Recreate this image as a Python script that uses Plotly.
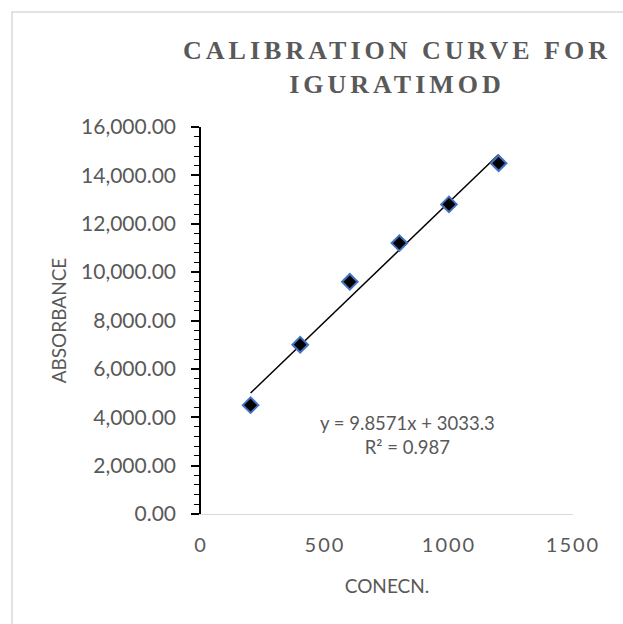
import numpy as np
import plotly.graph_objects as go

# ---- data ----
concentration = [200, 400, 600, 800, 1000, 1200]
absorbance = [4500, 7000, 9600, 11200, 12800, 14500]
x_tick_values = [0, 500, 1000, 1500]
y_tick_values = [0, 2000, 4000, 6000, 8000, 10000, 12000, 14000, 16000]
title_lines = ["CALIBRATION CURVE FOR", "IGURATIMOD"]
x_title = "CONECN."
y_title = "ABSORBANCE"

# ---- linear trendline (least squares) ----
slope, intercept = np.polyfit(concentration, absorbance, 1)
pred = np.polyval([slope, intercept], concentration)
ss_res = float(np.sum((np.array(absorbance) - pred) ** 2))
ss_tot = float(np.sum((np.array(absorbance) - np.mean(absorbance)) ** 2))
r2 = 1 - ss_res / ss_tot
trend_x = [min(concentration), max(concentration)]
trend_y = list(np.polyval([slope, intercept], trend_x))
eq_text = f"y = {slope:.4f}x + {intercept:.1f}<br>R² = {r2:.4g}"

W, H = 623, 624
L, R, T, B = 201, 50, 127, 110
plot_w = W - L - R
plot_h = H - T - B

def px_x(px):
    return (px - L) / plot_w

def px_y(py):
    return (H - B - py) / plot_h

grey = "#595959"
font = "Lato, 'Open Sans', sans-serif"

fig = go.Figure()
fig.add_trace(go.Scatter(
    x=trend_x, y=trend_y, mode="lines",
    line=dict(color="black", width=1.5), hoverinfo="skip", showlegend=False))
fig.add_trace(go.Scatter(
    x=concentration, y=absorbance, mode="markers",
    marker=dict(symbol="diamond", size=12, color="black",
                line=dict(color="#4472C4", width=2)),
    showlegend=False))

title_html = "<br>".join(
    f'<span style="letter-spacing:4px">{t}</span>' for t in title_lines)

fig.update_layout(
    width=W, height=H,
    margin=dict(l=L, r=R, t=T, b=B),
    paper_bgcolor="white", plot_bgcolor="white",
    title=dict(text=f"<b>{title_html}</b>", xref="container", yref="container",
               x=397 / W, xanchor="center", y=1 - 59 / H, yanchor="top",
               font=dict(family="'Liberation Serif', 'Times New Roman', serif",
                         size=26, color=grey)),
    xaxis=dict(range=[0, 1500], tickvals=x_tick_values,
               ticktext=[f'<span style="letter-spacing:2px">{v}</span>' for v in x_tick_values],
               showgrid=False, zeroline=False, showline=True,
               linecolor="#D9D9D9", linewidth=1, ticks="",
               ticklabelstandoff=13,
               tickfont=dict(family=font, size=20, color=grey),
               title=dict(text=x_title, standoff=24,
                          font=dict(family=font, size=19, color=grey))),
    yaxis=dict(range=[0, 16000], tickvals=y_tick_values, tickformat=",.2f",
               showgrid=False, zeroline=False, showline=True,
               linecolor="black", linewidth=1.5,
               ticks="outside", ticklen=8, tickcolor="black", tickwidth=1.5,
               minor=dict(dtick=400, ticks="outside", ticklen=5,
                          tickcolor="black", tickwidth=1.2, showgrid=False),
               ticklabelstandoff=11,
               tickfont=dict(family=font, size=21, color=grey),
               title=dict(text=y_title, standoff=9,
                          font=dict(family=font, size=19, color=grey))),
    annotations=[dict(text=eq_text, xref="paper", yref="paper",
                      x=px_x(407), y=px_y(435), xanchor="center", yanchor="middle",
                      showarrow=False, align="center",
                      font=dict(family=font, size=18.5, color=grey))],
    shapes=[dict(type="rect", xref="paper", yref="paper",
                 x0=px_x(12), y0=px_y(640), x1=px_x(640), y1=px_y(12),
                 line=dict(color="#D9D9D9", width=1.5), fillcolor="rgba(0,0,0,0)",
                 layer="below")],
)

fig.write_html("out.html")
